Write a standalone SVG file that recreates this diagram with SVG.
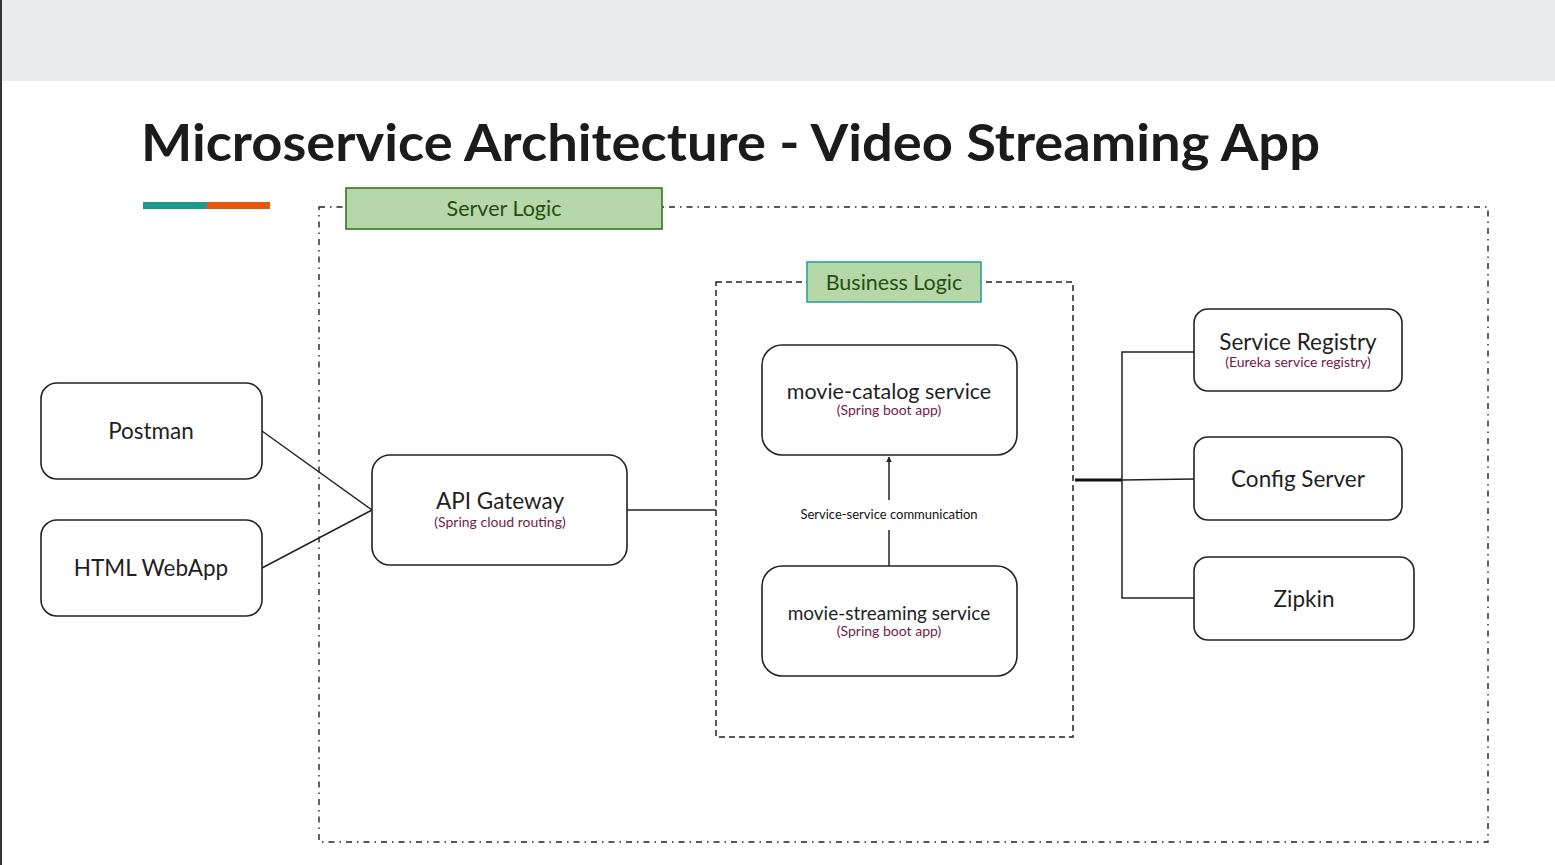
<svg xmlns="http://www.w3.org/2000/svg" width="1555" height="865" viewBox="0 0 1555 865">
<defs>
<style>
.node{fill:#fff;stroke:#222;stroke-width:1.6}
.lbl{font-family:Lato,"Open Sans",sans-serif;font-size:22.5px;fill:#1f1f1f;text-anchor:middle}
.mid{font-size:21.5px}
.sub{font-family:Lato,"Open Sans",sans-serif;font-size:14px;fill:#741b47;text-anchor:middle}
.conn{stroke:#222;stroke-width:1.5;fill:none}
.tag{fill:#b6d7a8;stroke-width:1.6}
.tagtxt{font-family:Lato,"Open Sans",sans-serif;font-size:21.5px;fill:#274e13;text-anchor:middle}
</style>
<marker id="arr" viewBox="0 0 10 10" refX="9" refY="5" markerWidth="6" markerHeight="8" orient="auto" markerUnits="userSpaceOnUse">
<path d="M0,0 L10,5 L0,10 z" fill="#222"/>
</marker>
</defs>
<rect x="0" y="0" width="1555" height="865" fill="#fff"/>
<rect x="2" y="0" width="1553" height="81" fill="#e8eced"/>
<line x1="1" y1="0" x2="1" y2="865" stroke="#333" stroke-width="2"/>

<text x="141" y="161" font-family="Lato,'Open Sans',sans-serif" font-weight="bold" font-size="52" fill="#1b1b1b" textLength="1179" lengthAdjust="spacingAndGlyphs">Microservice Architecture - Video Streaming App</text>
<rect x="143" y="202" width="64" height="7" fill="#1a9a8a"/>
<rect x="207" y="202" width="63" height="7" fill="#e8580c"/>

<g id="server-logic">
<rect x="319" y="207" width="1169" height="635" fill="none" stroke="#222" stroke-width="1.4" stroke-dasharray="6 5 1.5 5"/>
<rect class="tag" x="346" y="188" width="316" height="41" stroke="#38761d"/>
<text class="tagtxt" x="504" y="216">Server Logic</text>
</g>

<g id="business-logic">
<rect x="716" y="282" width="357" height="455" fill="none" stroke="#222" stroke-width="1.5" stroke-dasharray="6 4"/>
<rect class="tag" x="807" y="262" width="174" height="40" stroke="#26a69a"/>
<text class="tagtxt" x="894" y="290">Business Logic</text>
</g>

<g id="connectors">
<line class="conn" x1="262" y1="431" x2="372" y2="510"/>
<line class="conn" x1="262" y1="568" x2="372" y2="510"/>
<line class="conn" x1="627" y1="510" x2="716" y2="510"/>
<line class="conn" x1="889" y1="566" x2="889" y2="530"/>
<line class="conn" x1="889" y1="500" x2="889" y2="457" marker-end="url(#arr)"/>
<text x="889" y="519" font-family="Lato,'Open Sans',sans-serif" font-size="13" fill="#111" text-anchor="middle">Service-service communication</text>
<line x1="1075" y1="480" x2="1122" y2="480" stroke="#111" stroke-width="3"/>
<polyline class="conn" points="1194,352 1122,352 1122,598 1194,598"/>
<line class="conn" x1="1122" y1="480" x2="1194" y2="479"/>
</g>

<g id="postman">
<rect class="node" x="41" y="383" width="221" height="96" rx="16"/>
<text class="lbl" x="151" y="439">Postman</text>
</g>
<g id="html-webapp">
<rect class="node" x="41" y="520" width="221" height="96" rx="16"/>
<text class="lbl" x="151" y="576">HTML WebApp</text>
</g>
<g id="api-gateway">
<rect class="node" x="372" y="455" width="255" height="110" rx="18"/>
<text class="lbl" x="500" y="509">API Gateway</text>
<text class="sub" x="500" y="527">(Spring cloud routing)</text>
</g>
<g id="movie-catalog">
<rect class="node" x="762" y="345" width="255" height="110" rx="20"/>
<text class="lbl mid" x="889" y="399">movie-catalog service</text>
<text class="sub" x="889" y="415">(Spring boot app)</text>
</g>
<g id="movie-streaming">
<rect class="node" x="762" y="566" width="255" height="110" rx="20"/>
<text class="lbl" x="889" y="620" style="font-size:19px">movie-streaming service</text>
<text class="sub" x="889" y="636">(Spring boot app)</text>
</g>
<g id="service-registry">
<rect class="node" x="1194" y="309" width="208" height="82" rx="14"/>
<text class="lbl" x="1298" y="350">Service Registry</text>
<text class="sub" x="1298" y="367">(Eureka service registry)</text>
</g>
<g id="config-server">
<rect class="node" x="1194" y="437" width="208" height="83" rx="14"/>
<text class="lbl" x="1298" y="487">Config Server</text>
</g>
<g id="zipkin">
<rect class="node" x="1194" y="557" width="220" height="83" rx="14"/>
<text class="lbl" x="1304" y="607">Zipkin</text>
</g>
</svg>
